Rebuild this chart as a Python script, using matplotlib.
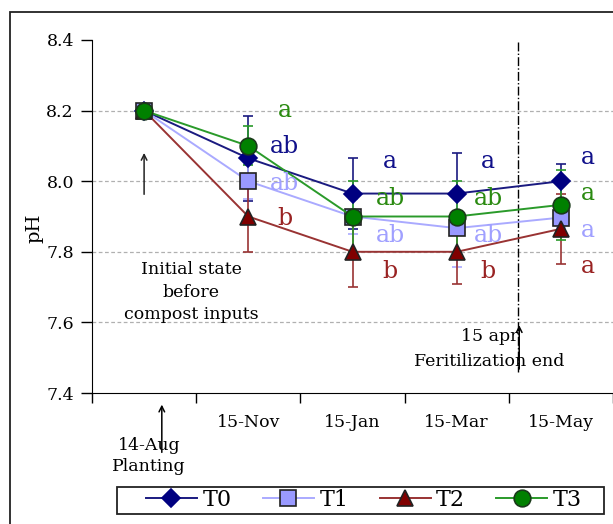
import matplotlib.pyplot as plt
from matplotlib.patches import Rectangle

plt.rcParams['font.family'] = 'DejaVu Serif'

months = ['', '15-Nov', '15-Jan', '15-Mar', '15-May']
series = ['T0', 'T1', 'T2', 'T3']

# mean pH per sampling date
ph_t0 = [8.20, 8.065, 7.965, 7.965, 8.00]
ph_t1 = [8.20, 8.00, 7.90, 7.867, 7.897]
ph_t2 = [8.20, 7.90, 7.80, 7.80, 7.865]
ph_t3 = [8.20, 8.10, 7.90, 7.90, 7.933]

# standard errors
err_t0 = [0, 0.12, 0.10, 0.115, 0.05]
err_t1 = [0, 0.05, 0.05, 0.11, 0.03]
err_t2 = [0, 0.10, 0.10, 0.09, 0.10]
err_t3 = [0, 0.055, 0.10, 0.10, 0.10]

# significance letters
let_t0 = ['', 'ab', 'a', 'a', 'a']
let_t1 = ['', 'ab', 'ab', 'ab', 'a']
let_t2 = ['', 'b', 'b', 'b', 'a']
let_t3 = ['', 'a', 'ab', 'ab', 'a']
let_y_t0 = [0, 8.08, 8.037, 8.037, 8.05]
let_y_t1 = [0, 7.975, 7.828, 7.828, 7.842]
let_y_t2 = [0, 7.876, 7.726, 7.726, 7.74]
let_y_t3 = [0, 8.182, 7.933, 7.933, 7.947]
let_x = [0, 1.35, 2.36, 3.30, 4.26]

styles = [
    dict(marker='D', ms=9, mfc='#000080', mec='#000080', lc='#1a1a80', tc='#10108a'),
    dict(marker='s', ms=11, mfc='#9999ff', mec='#222222', lc='#aaaaff', tc='#a0a0ff'),
    dict(marker='^', ms=11, mfc='#800000', mec='#222222', lc='#993333', tc='#992222'),
    dict(marker='o', ms=12, mfc='#008000', mec='#1a3a1a', lc='#2a9a2a', tc='#2a8a10'),
]
ph = [ph_t0, ph_t1, ph_t2, ph_t3]
errs = [err_t0, err_t1, err_t2, err_t3]
lets = [let_t0, let_t1, let_t2, let_t3]
let_ys = [let_y_t0, let_y_t1, let_y_t2, let_y_t3]

fig = plt.figure(figsize=(6.13, 5.24), dpi=100)
ax = fig.add_axes([92 / 613, 1 - 393 / 524, 521 / 613, 353 / 524])
x = list(range(len(months)))

handles = []
for name, y, e, st in zip(series, ph, errs, styles):
    ax.errorbar(x, y, yerr=e, fmt='none', ecolor=st['lc'], elinewidth=1.2, capsize=3.3, capthick=1.2, zorder=2)
    h, = ax.plot(x, y, color=st['lc'], lw=1.4, marker=st['marker'], ms=st['ms'],
                 mfc=st['mfc'], mec=st['mec'], mew=1.2, label=name, zorder=3)
    handles.append(h)

for lab, ly, st in zip(lets, let_ys, styles):
    for i in range(1, len(months)):
        ax.text(let_x[i], ly[i], lab[i], color=st['tc'], fontsize=17, ha='center', va='baseline', zorder=4)

ax.set_xlim(-0.5, 4.5)
ax.set_ylim(7.4, 8.4)
ax.set_yticks([7.4, 7.6, 7.8, 8.0, 8.2, 8.4])
ax.set_yticklabels(['%.1f' % v for v in [7.4, 7.6, 7.8, 8.0, 8.2, 8.4]])
ax.set_xticks(x)
ax.set_xticklabels(months)
ax.set_xticks([i - 0.5 for i in range(len(months) + 1)], minor=True)
ax.tick_params(axis='x', which='major', length=0, pad=15, labelsize=12.5)
ax.tick_params(axis='x', which='minor', length=7, width=1, direction='out')
ax.tick_params(axis='y', length=8, width=1, direction='out', pad=5, labelsize=12.5)
for v in [7.6, 7.8, 8.0, 8.2]:
    ax.axhline(v, color='#b0b0b0', lw=0.9, ls=(0, (3, 2)), zorder=0)
ax.spines['top'].set_visible(False)
ax.spines['right'].set_visible(False)
ax.set_ylabel('pH', fontsize=14)
ax.yaxis.set_label_coords(-0.093, 0.467)

# end of fertilization marker
ax.plot([3.59, 3.59], [8.395, 7.46], color='black', lw=1, ls='-.', zorder=1)

ax.annotate('', xy=(0, 8.088), xytext=(0, 7.955),
            arrowprops=dict(arrowstyle='->', lw=1.1, color='#222222'))
ax.text(0.45, 7.686, 'Initial state\nbefore\ncompost inputs', fontsize=12.5, ha='center', va='center',
        linespacing=1.45)

ax.annotate('', xy=(3.60, 7.60), xytext=(3.60, 7.46),
            arrowprops=dict(arrowstyle='->', lw=1.1, color='black'))
ax.text(3.32, 7.559, '15 apr', fontsize=12.5, ha='center', va='center')
ax.text(3.31, 7.488, 'Feritilization end', fontsize=12.5, ha='center', va='center')

ax.annotate('', xy=(0.17, 7.375), xytext=(0.17, 7.224), annotation_clip=False,
            arrowprops=dict(arrowstyle='->', lw=1.1, color='black'))
ax.text(0.047, 7.222, '14-Aug\nPlanting', fontsize=12.5, ha='center', va='center', linespacing=1.3)

leg = fig.legend(handles=handles, loc='center', bbox_to_anchor=(364 / 613, 1 - 500 / 524), ncol=4,
                 fontsize=16, frameon=False, handlelength=2.3,
                 handletextpad=0.25, columnspacing=1.4, borderpad=0.15, borderaxespad=0)
# legend box
fig.patches.append(Rectangle((117 / 613, 1 - 514 / 524), 487 / 613, 27 / 524, transform=fig.transFigure,
                             fill=False, edgecolor='#222222', lw=1.3))

fig.patches.append(Rectangle((10 / 613, -0.1), 1.2, 1 - 12 / 524 + 0.1, transform=fig.transFigure,
                             fill=False, edgecolor='#222222', lw=1.3))

fig.savefig('out.png', dpi=100)
